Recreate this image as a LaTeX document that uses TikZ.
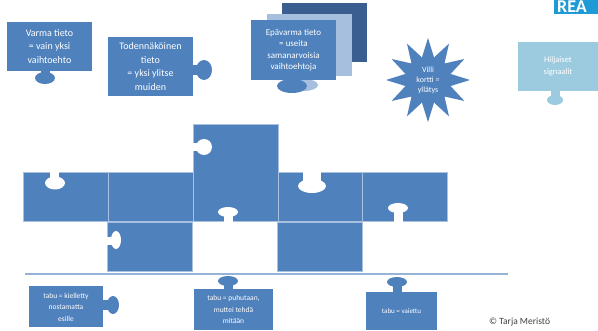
\documentclass[tikz,border=0pt]{standalone}
\usepackage{fontspec}
\setmainfont{Carlito}
\usetikzlibrary{shapes.geometric}
\definecolor{pblue}{HTML}{4F81BD}
\definecolor{plight}{HTML}{A7BFDE}
\definecolor{pdark}{HTML}{3B5E91}
\definecolor{paqua}{HTML}{9CCBDF}
\definecolor{pline}{HTML}{95B3D7}
\definecolor{pborder}{HTML}{A9C1E0}
\definecolor{reablue}{HTML}{1E9AD6}
\definecolor{copygray}{HTML}{404040}
\begin{document}
\begin{tikzpicture}[x=1pt,y=-1pt,
  box/.style={fill=pblue, text=white, align=center, inner sep=0pt},
  bigtext/.style={font=\fontsize{10}{13.5}\selectfont},
  midtext/.style={font=\fontsize{9}{11.5}\selectfont},
  smalltext/.style={font=\fontsize{7.5}{11.5}\selectfont},
  piece/.style={fill=pblue, draw=pborder, line width=0.7pt},
  hole/.style={fill=white, draw=none},
  knob/.style={fill=pblue, draw=none}]
\useasboundingbox (0,0) rectangle (598,331);
\fill[white] (0,0) rectangle (598,331);

% REA corner
\begin{scope}
  \clip (554,0) rectangle (598,14);
  \fill[reablue] (554,0) rectangle (598,14);
  \node[anchor=base west, inner sep=0, text=white, font=\bfseries\fontsize{18}{18}\selectfont] (rea) at (557,12.5) {REA};
\end{scope}

% Varma tieto
\fill[knob] (41,70) rectangle (50,76);
\fill[knob] (45,78) ellipse [x radius=10, y radius=6];
\node[box, bigtext, minimum width=85, minimum height=49] (varma) at (49.5,46.5) {Varma tieto\\= vain yksi\\vaihtoehto};

% Todennakoinen
\fill[knob] (192,65) rectangle (198,75);
\fill[knob] (204,70) ellipse [x radius=8, y radius=10];
\node[box, bigtext, minimum width=85, minimum height=59] (toden) at (150.5,66.5) {Todennäköinen\\tieto\\= yksi ylitse\\muiden};

% Epavarma stack
\fill[pdark] (282,3) rectangle (367,62);
\fill[plight] (267,14) rectangle (352,76);
\fill[plight] (304,85) ellipse [x radius=14, y radius=6];
\fill[knob] (286,79) rectangle (298,84);
\fill[knob] (292,86) ellipse [x radius=15, y radius=7];
\node[box, midtext, minimum width=85, minimum height=60] (epav) at (293.5,50) {Epävarma tieto\\= useita\\samanarvoisia\\vaihtoehtoja};

% Star
\node[star, star points=12, star point ratio=1.8, minimum size=84pt, inner sep=0pt, fill=pblue] (star) at (428,80) {};
\node[align=center, text=white, inner sep=0, font=\fontsize{8}{10}\selectfont] (startext) at (star.center) {Villi\\kortti =\\yllätys};

% Hiljaiset signaalit
\fill[paqua] (551,90) rectangle (560,97);
\fill[paqua] (555,100) ellipse [x radius=8, y radius=5];
\node[box, fill=paqua, font=\fontsize{8.5}{12}\selectfont, minimum width=80, minimum height=49] (hilj) at (558,66.5) {Hiljaiset\\signaalit};

% Puzzle pieces
\fill[piece] (23,172) rectangle (108,221);
\fill[piece] (108,172) rectangle (193,221);
\fill[piece] (193,124) rectangle (278,221);
\fill[piece] (278,172) rectangle (362,221);
\fill[piece] (362,172) rectangle (447,221);
\fill[piece] (107,222) rectangle (192,271);
\fill[piece] (277,222) rectangle (362,271);
% holes
\fill[hole] (50,170) rectangle (59,180);
\fill[hole] (55,183) ellipse [x radius=10, y radius=6.5];
\fill[hole] (191,143) rectangle (199,151);
\fill[hole] (204,147) ellipse [x radius=8, y radius=8];
\fill[hole] (224,213) rectangle (233,223);
\fill[hole] (228,212) ellipse [x radius=10, y radius=5];
\fill[hole] (105,237) rectangle (114,245);
\fill[hole] (116,240) ellipse [x radius=5, y radius=9];
\fill[hole] (303,170) rectangle (321,186);
\fill[hole] (312,186) ellipse [x radius=14, y radius=7];
\fill[hole] (394,207) rectangle (403,223);
\fill[hole] (398,208) ellipse [x radius=10, y radius=5];

% horizontal line
\coordinate (lineL) at (25,274);
\coordinate (lineR) at (508,274);
\draw[pline, line width=2.5pt] (lineL) -- (lineR);

% bottom boxes
\fill[knob] (102,300) rectangle (110,310);
\fill[knob] (113,305) ellipse [x radius=6, y radius=9];
\node[box, smalltext, minimum width=74, minimum height=41] (kiel) at (66,307) {tabu = kielletty\\nostamatta\\esille};

\fill[knob] (224,283) rectangle (233,290);
\fill[knob] (228,281) ellipse [x radius=10, y radius=5];
\node[box, smalltext, minimum width=79, minimum height=41] (puhu) at (233.5,309.5) {tabu = puhutaan,\\muttei tehdä\\mitään};

\fill[knob] (393,284) rectangle (402,293);
\fill[knob] (397,282) ellipse [x radius=10, y radius=5];
\node[box, font=\fontsize{7}{10}\selectfont, minimum width=71, minimum height=38] (vaie) at (401.5,311) {tabu = vaiettu};

\node[anchor=west, inner sep=0, text=copygray, font=\fontsize{9.5}{11}\selectfont] (copy) at (489,322) {© Tarja Meristö};
\end{tikzpicture}
\end{document}
